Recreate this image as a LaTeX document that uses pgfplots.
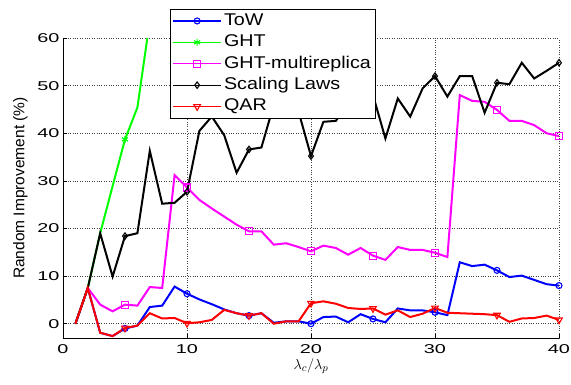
\documentclass[border=0pt]{standalone}
\usepackage{fontspec}
\setmainfont{Liberation Sans}
\newfontfamily\tickfont{Liberation Sans}[FakeStretch=1.55]
\newfontfamily\legfont{Liberation Sans}[FakeStretch=1.16]
\usepackage{pgfplots}
\pgfplotsset{compat=1.18}
\definecolor{mblue}{rgb}{0,0,1}
\definecolor{mgreen}{rgb}{0,1,0}
\definecolor{mmag}{rgb}{1,0,1}
\definecolor{mred}{rgb}{1,0,0}
\begin{document}
\begin{tikzpicture}
\useasboundingbox (-63pt,-47pt) rectangle (508pt,338pt);
\begin{axis}[
  name=ax,
  at={(0pt,0pt)}, anchor=south west,
  scale only axis,
  width=496pt, height=300pt,
  xmin=0, xmax=40, ymin=-3, ymax=60,
  xtick={0,10,...,40}, ytick={0,10,...,60},
  axis x line*=bottom, axis y line*=left,
  axis line style={line width=0.6pt},
  tick align=inside, major tick length=4pt,
  tick style={black, line width=0.6pt},
  grid=major,
  grid style={dotted, black!75, line width=0.6pt},
  /pgf/number format/assume math mode=true,
  ticklabel style={font=\tickfont\fontsize{12.8}{13}\selectfont},
  xticklabel style={yshift=-3pt},
  xlabel={$\lambda_c/\lambda_p$},
  xlabel style={font=\fontsize{15}{15}\selectfont, yshift=2pt},
  ylabel={Random Improvement (\%)},
  ylabel style={font=\fontsize{15.5}{16}\selectfont, yshift=3pt},
  legend style={at={(rel axis cs:0.216,1.097)}, anchor=north west,
    draw=black, line width=0.7pt, fill=white, inner xsep=2pt, inner ysep=1pt,
    nodes={font=\legfont\fontsize{17}{17}\selectfont, text height=12.8pt, text depth=4pt, inner sep=2.3pt},
    legend cell align=left},
  legend image code/.code={\draw[line width=1.3pt, mark repeat=2,mark phase=2] plot coordinates {(0pt,0pt) (24pt,0pt) (48pt,0pt)};},
]
% ToW
\addplot[mblue, line width=2pt, mark=o, mark repeat=5, mark phase=5, mark size=3pt, mark options={solid, line width=1.1pt}] coordinates {
(1,0) (2,7.5) (3,-1.9) (4,-2.6) (5,-1.0) (6,-0.4) (7,3.5) (8,3.8) (9,7.8) (10,6.3)
(11,5.1) (12,4.1) (13,3.0) (14,2.2) (15,1.7) (16,2.2) (17,0.2) (18,0.5) (19,0.5) (20,0)
(21,1.4) (22,1.5) (23,0.3) (24,2.0) (25,1.0) (26,0.3) (27,3.2) (28,2.8) (29,2.8) (30,2.4)
(31,1.8) (32,12.9) (33,12.1) (34,12.4) (35,11.2) (36,9.8) (37,10.1) (38,9.2) (39,8.3) (40,8.0)};
\addlegendentry{ToW}
% GHT
\addplot[mgreen, line width=2pt, mark=asterisk, mark repeat=5, mark phase=5, mark size=3.5pt, mark options={solid, line width=1.1pt}] coordinates {
(1,0) (2,7.5) (3,19.0) (4,28.9) (5,38.7) (6,45.4) (7,63.6) (8,80)};
\addlegendentry{GHT}
% GHT-multireplica
\addplot[mmag, line width=2pt, mark=square, mark repeat=5, mark phase=5, mark size=3.5pt, mark options={solid, line width=1.1pt}] coordinates {
(1,0) (2,7.5) (3,4.0) (4,2.6) (5,4.0) (6,3.8) (7,7.7) (8,7.5) (9,31.2) (10,28.6)
(11,26.0) (12,24.2) (13,22.5) (14,20.8) (15,19.4) (16,19.4) (17,16.6) (18,16.9) (19,16.1) (20,15.2)
(21,16.4) (22,15.9) (23,14.5) (24,15.9) (25,14.3) (26,13.4) (27,16.1) (28,15.5) (29,15.5) (30,14.9)
(31,14.0) (32,48.0) (33,46.8) (34,46.6) (35,44.9) (36,42.6) (37,42.6) (38,41.7) (39,40.0) (40,39.4)};
\addlegendentry{GHT-multireplica}
% Scaling Laws
\addplot[black, line width=2pt, mark=diamond, mark repeat=5, mark phase=5, mark size=3.2pt, mark options={solid, line width=1.1pt}] coordinates {
(1,0) (2,7.5) (3,19.0) (4,9.9) (5,18.4) (6,19.0) (7,36.3) (8,25.2) (9,25.4) (10,27.7)
(11,40.5) (12,43.5) (13,39.6) (14,31.7) (15,36.6) (16,37.0) (17,46) (18,47) (19,44.5) (20,35.2)
(21,42.4) (22,42.6) (23,46) (24,47) (25,48) (26,38.9) (27,47.3) (28,43.5) (29,49.4) (30,52.0)
(31,47.7) (32,52.0) (33,52.0) (34,44.3) (35,50.6) (36,50.3) (37,54.8) (38,51.5) (39,53.1) (40,54.8)};
\addlegendentry{Scaling Laws}
% QAR
\addplot[mred, line width=2pt, mark=triangle, mark repeat=5, mark phase=5, mark size=3.8pt, mark options={solid, line width=1.1pt, rotate=180}] coordinates {
(1,0) (2,7.5) (3,-1.9) (4,-2.6) (5,-0.9) (6,-0.4) (7,2.2) (8,1.1) (9,1.2) (10,0.1)
(11,0.3) (12,0.8) (13,2.9) (14,2.2) (15,1.7) (16,2.2) (17,0) (18,0.5) (19,0.5) (20,4.3)
(21,4.7) (22,4.2) (23,3.3) (24,3.1) (25,3.2) (26,1.9) (27,2.8) (28,1.4) (29,2.1) (30,3.3)
(31,2.3) (32,2.2) (33,2.1) (34,2.0) (35,1.8) (36,0.4) (37,1.1) (38,1.2) (39,1.7) (40,0.8)};
\addlegendentry{QAR}
\end{axis}
\end{tikzpicture}
\end{document}
